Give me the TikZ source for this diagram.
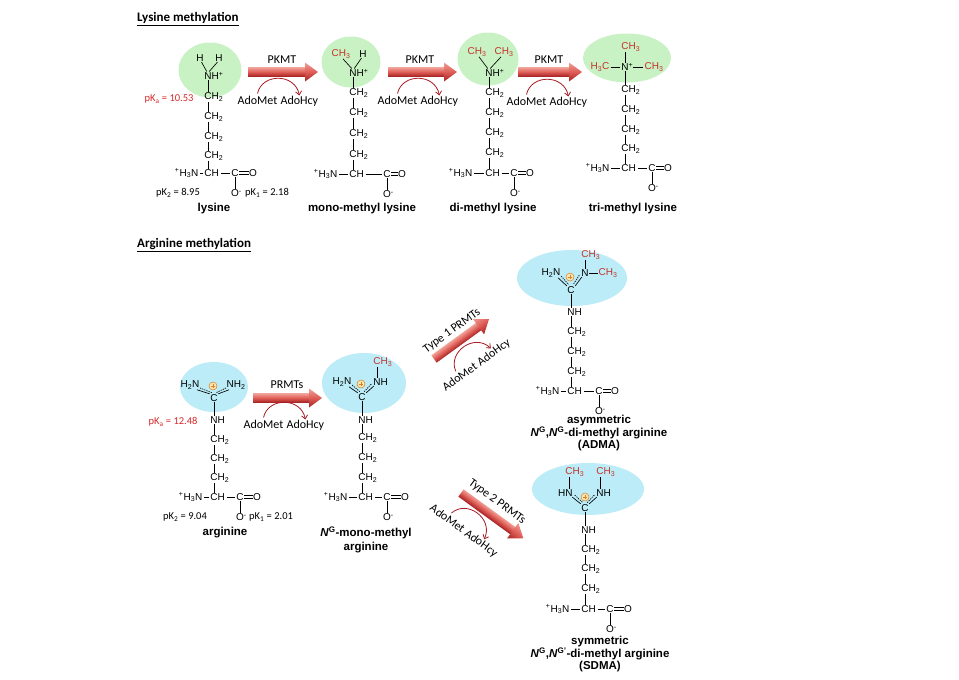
\documentclass[tikz,border=0pt]{standalone}
\usepackage{fontspec}
\setmainfont{Liberation Sans}
\newfontfamily\calfont{Carlito}
\usetikzlibrary{shapes.geometric,arrows.meta,calc}
\definecolor{mred}{RGB}{196,52,42}
\definecolor{pkred}{RGB}{214,40,40}
\definecolor{lgreen}{RGB}{200,241,196}
\definecolor{lblue}{RGB}{188,236,247}
\definecolor{arrtop}{RGB}{240,160,150}
\definecolor{arrmid}{RGB}{222,92,86}
\definecolor{arrbot}{RGB}{165,34,34}
\definecolor{curvered}{RGB}{168,28,36}
\definecolor{plusorange}{RGB}{214,130,40}
\definecolor{plusfill}{RGB}{250,228,175}
\tikzset{
 atom/.style={font=\fontsize{10}{10}\selectfont, inner sep=0.4pt},
 ratom/.style={atom, text=mred},
 bond/.style={line width=0.65pt},
 pk/.style={font=\calfont\fontsize{10.5}{11}\selectfont, inner sep=0pt},
 pkr/.style={pk, text=pkred},
 enz/.style={font=\calfont\fontsize{12}{13}\selectfont, inner sep=0pt},
 molname/.style={font=\bfseries\fontsize{11.5}{11.5}\selectfont, align=center, inner sep=0pt},
 heading/.style={font=\calfont\bfseries\fontsize{13}{14}\selectfont, inner sep=0pt, anchor=west},
 gell/.style={ellipse, fill=lgreen, inner sep=0pt},
 bell/.style={ellipse, fill=lblue, inner sep=0pt},
 plusc/.style={circle, draw=plusorange, fill=plusfill, line width=0.5pt, minimum size=8pt, inner sep=0pt,
   path picture={\draw[plusorange, line width=0.6pt]
     ([xshift=-2.2pt]path picture bounding box.center) -- ([xshift=2.2pt]path picture bounding box.center)
     ([yshift=-2.2pt]path picture bounding box.center) -- ([yshift=2.2pt]path picture bounding box.center);}},
 curv/.style={draw=curvered, line width=0.8pt, -{Straight Barb[length=3.5pt, width=6pt]}},
 dbond/.style={bond, dash pattern=on 1.3pt off 1pt},
}
% fat shaded reaction arrow: tail x, tail y, angle, length
\newcommand\fatarrow[4]{%
 \begin{scope}[transform canvas={shift={(#1,#2)},rotate=#3}]
  \shade[top color=arrtop, bottom color=arrbot, middle color=arrmid] (0,-4.5) rectangle (#4-12.5,4.5);
  \shade[top color=arrtop, bottom color=arrbot, middle color=arrmid] (#4-13,-9.5) -- (#4,0) -- (#4-13,9.5) -- cycle;
 \end{scope}}
% AdoMet -> AdoHcy cofactor label with curved arrow: name, x, y, angle
\newcommand\cofactor[4]{%
 \begin{scope}[shift={(#2,#3)}, rotate=#4]
  \node[enz, transform shape, anchor=base east] (#1am) at (-1.4,4) {AdoMet};
  \node[enz, transform shape, anchor=base west] (#1ah) at (1.4,4) {AdoHcy};
  \draw[curv] ([yshift=2pt]#1am.north) .. controls (-17,-27) and (16,-27) .. (#1ah.north);
 \end{scope}}
\newcommand\chtwo[3]{\node[atom] (#1) at (#2,#3) {C\rlap{H\textsubscript{2}}};}
% bottom row: prefix, chain x, y, H3N east x, C x, O x
\newcommand\botrow[6]{%
 \node[atom, anchor=east] (#1h3n) at (#4,#3) {\textsuperscript{+}H\textsubscript{3}N};
 \node[atom] (#1ch) at (#2,#3) {C\rlap{H}};
 \node[atom] (#1cc) at (#5,#3) {C};
 \node[atom] (#1o) at (#6,#3) {O};
 \node[atom] (#1om) at (#5,#3+20.5) {O\rlap{\textsuperscript{-}}};
 \draw[bond] ([xshift=1pt]#1h3n.east) -- ([xshift=-1pt]#1ch.west);
 \draw[bond] ([xshift=8.6pt]#1ch.east) -- ([xshift=-1pt]#1cc.west);
 \draw[bond] ([yshift=1.7pt]#1cc.east) -- ([yshift=1.7pt]#1o.west);
 \draw[bond] ([yshift=-1.7pt]#1cc.east) -- ([yshift=-1.7pt]#1o.west);
 \draw[bond] (#1cc) -- (#1om);}
\begin{document}
\begin{tikzpicture}[x=1pt,y=-1pt]
\useasboundingbox (0,0) rectangle (959,680);
\fill[white] (0,0) rectangle (959,680);

% ---------- headings ----------
\node[heading] (lystitle) at (137,19) {\underline{Lysine methylation}};
\node[heading] (argtitle) at (137,245) {\underline{Arginine methylation}};

% ---------- highlight ellipses ----------
\node[gell, minimum width=63pt, minimum height=55pt] (ly1e) at (210,70) {};
\node[gell, minimum width=59pt, minimum height=51pt] (ly2e) at (351,62) {};
\node[gell, minimum width=61pt, minimum height=53pt] (ly3e) at (488,59) {};
\node[gell, minimum width=88pt, minimum height=49pt] (ly4e) at (627,58) {};
\node[bell, minimum width=68pt, minimum height=50pt] (a1e) at (214,387) {};
\node[bell, minimum width=84pt, minimum height=60pt] (a2e) at (364,383) {};
\node[bell, minimum width=110pt, minimum height=56pt] (ade) at (572,278) {};
\node[bell, minimum width=112pt, minimum height=52pt] (sde) at (588,489) {};

% ---------- lysine ----------
\node[atom] (ly1ha) at (200,58) {H};
\node[atom] (ly1hb) at (219,58) {H};
\node[atom] (ly1n) at (208,76) {N\rlap{H\textsuperscript{+}}};
\chtwo{ly1c1}{208}{97}
\chtwo{ly1c2}{208}{117}
\chtwo{ly1c3}{208}{137}
\chtwo{ly1c4}{208}{156}
\botrow{ly1}{208}{173}{199}{235}{253}
\draw[bond] ([xshift=1.5pt]ly1ha.south) -- ([xshift=-1.2pt]ly1n.north);
\draw[bond] ([xshift=-1.5pt]ly1hb.south) -- ([xshift=1.2pt]ly1n.north);
\draw[bond] (ly1n) -- (ly1c1) (ly1c1) -- (ly1c2) (ly1c2) -- (ly1c3) (ly1c3) -- (ly1c4) (ly1c4) -- (ly1ch);
\node[pkr] (ly1pka) at (169,99) {pK\textsubscript{a} = 10.53};
\node[pk] (ly1pk2) at (178,193) {pK\textsubscript{2} = 8.95};
\node[pk] (ly1pk1) at (267,193) {pK\textsubscript{1} = 2.18};
\node[molname] (ly1name) at (214,209) {lysine};

% ---------- mono-methyl lysine ----------
\node[ratom] (ly2me) at (341,54) {CH\textsubscript{3}};
\node[atom] (ly2h) at (363,54) {H};
\node[atom] (ly2n) at (353,73) {N\rlap{H\textsuperscript{+}}};
\chtwo{ly2c1}{353}{93}
\chtwo{ly2c2}{353}{113}
\chtwo{ly2c3}{353}{134}
\chtwo{ly2c4}{353}{155}
\botrow{ly2}{353}{174}{338}{387}{402}
\draw[bond] ([xshift=2pt]ly2me.south) -- ([xshift=-1.2pt]ly2n.north);
\draw[bond] ([xshift=-1.5pt]ly2h.south) -- ([xshift=1.2pt]ly2n.north);
\draw[bond] (ly2n) -- (ly2c1) (ly2c1) -- (ly2c2) (ly2c2) -- (ly2c3) (ly2c3) -- (ly2c4) (ly2c4) -- (ly2ch);
\node[molname] (ly2name) at (362,209) {mono-methyl lysine};

% ---------- di-methyl lysine ----------
\node[ratom] (ly3mea) at (477,52) {CH\textsubscript{3}};
\node[ratom] (ly3meb) at (504,52) {CH\textsubscript{3}};
\node[atom] (ly3n) at (489,73) {N\rlap{H\textsuperscript{+}}};
\chtwo{ly3c1}{489}{93}
\chtwo{ly3c2}{489}{113}
\chtwo{ly3c3}{489}{133}
\chtwo{ly3c4}{489}{153}
\botrow{ly3}{489}{173}{473}{514}{530}
\draw[bond] ([xshift=2pt]ly3mea.south) -- ([xshift=-1.2pt]ly3n.north);
\draw[bond] ([xshift=-3pt]ly3meb.south) -- ([xshift=1.2pt]ly3n.north);
\draw[bond] (ly3n) -- (ly3c1) (ly3c1) -- (ly3c2) (ly3c2) -- (ly3c3) (ly3c3) -- (ly3c4) (ly3c4) -- (ly3ch);
\node[molname] (ly3name) at (493,209) {di-methyl lysine};

% ---------- tri-methyl lysine ----------
\node[ratom] (ly4met) at (625,47) {C\rlap{H\textsubscript{3}}};
\node[ratom] (ly4mel) at (600,67) {H\textsubscript{3}C};
\node[atom] (ly4n) at (625,67) {N\rlap{\textsuperscript{+}}};
\node[ratom] (ly4mer) at (654,67) {CH\textsubscript{3}};
\chtwo{ly4c1}{625}{90}
\chtwo{ly4c2}{625}{110}
\chtwo{ly4c3}{625}{130}
\chtwo{ly4c4}{625}{149}
\botrow{ly4}{625}{168}{610}{652}{668}
\draw[bond] (ly4met) -- (ly4n);
\draw[bond] ([xshift=0.5pt]ly4mel.east) -- ([xshift=-0.5pt]ly4n.west);
\draw[bond] ([xshift=4pt]ly4n.east) -- ([xshift=-0.5pt]ly4mer.west);
\draw[bond] (ly4n) -- (ly4c1) (ly4c1) -- (ly4c2) (ly4c2) -- (ly4c3) (ly4c3) -- (ly4c4) (ly4c4) -- (ly4ch);
\node[molname] (ly4name) at (633,209) {tri-methyl lysine};

% ---------- lysine reaction arrows ----------
\coordinate (k1s) at (248,72); \coordinate (k1t) at (318,72);
\fatarrow{248}{72}{0}{70}
\node[enz] (k1lab) at (282,60) {PKMT};
\cofactor{k1}{279}{100}{0}
\coordinate (k2s) at (388,72); \coordinate (k2t) at (457,72);
\fatarrow{388}{72}{0}{69}
\node[enz] (k2lab) at (420,60) {PKMT};
\cofactor{k2}{419}{100}{0}
\coordinate (k3s) at (518,72); \coordinate (k3t) at (582,72);
\fatarrow{518}{72}{0}{64}
\node[enz] (k3lab) at (549,60) {PKMT};
\cofactor{k3}{548}{101}{0}

% ---------- arginine ----------
\node[atom] (a1l) at (190,385) {H\textsubscript{2}N};
\node[atom] (a1r) at (236,385) {NH\textsubscript{2}};
\node[plusc] (a1p) at (213,386) {};
\node[atom] (a1c) at (214,398) {C};
\node[atom] (a1nh) at (214,420) {N\rlap{H}};
\chtwo{a1c1}{214}{440}
\chtwo{a1c2}{214}{459}
\chtwo{a1c3}{214}{478}
\botrow{a1}{214}{497}{203}{240}{257}
\draw[bond] ([xshift=-3pt]a1l.south east) -- (a1c.north west);
\draw[dbond] ([xshift=0pt,yshift=1.8pt]a1l.south east) -- ([xshift=2pt,yshift=1.2pt]a1c.north west);
\draw[bond] ([xshift=3pt]a1r.south west) -- (a1c.north east);
\draw[dbond] ([xshift=0pt,yshift=1.8pt]a1r.south west) -- ([xshift=-2pt,yshift=1.2pt]a1c.north east);
\draw[bond] (a1c) -- (a1nh) (a1nh) -- (a1c1) (a1c1) -- (a1c2) (a1c2) -- (a1c3) (a1c3) -- (a1ch);
\node[pkr] (a1pka) at (173,422) {pK\textsubscript{a} = 12.48};
\node[pk] (a1pk2) at (185,517) {pK\textsubscript{2} = 9.04};
\node[pk] (a1pk1) at (271,517) {pK\textsubscript{1} = 2.01};
\node[molname] (a1name) at (225,533) {arginine};

% ---------- NG-mono-methyl arginine ----------
\node[ratom] (a2me) at (377,362) {C\rlap{H\textsubscript{3}}};
\node[atom] (a2l) at (342,382) {H\textsubscript{2}N};
\node[atom] (a2r) at (377,382) {N\rlap{H}};
\node[plusc] (a2p) at (361,384) {};
\node[atom] (a2c) at (362,397) {C};
\node[atom] (a2nh) at (362,420) {N\rlap{H}};
\chtwo{a2c1}{362}{438}
\chtwo{a2c2}{362}{458}
\chtwo{a2c3}{362}{478}
\botrow{a2}{362}{497}{348}{387}{405}
\draw[bond] (a2me) -- (a2r);
\draw[bond] ([xshift=-3pt]a2l.south east) -- (a2c.north west);
\draw[dbond] ([yshift=1.8pt]a2l.south east) -- ([xshift=2pt,yshift=1.2pt]a2c.north west);
\draw[bond] ([xshift=1pt]a2r.south west) -- (a2c.north east);
\draw[dbond] ([xshift=-1.5pt,yshift=2pt]a2r.south west) -- ([xshift=-2pt,yshift=1.2pt]a2c.north east);
\draw[bond] (a2c) -- (a2nh) (a2nh) -- (a2c1) (a2c1) -- (a2c2) (a2c2) -- (a2c3) (a2c3) -- (a2ch);
\node[molname] (a2name) at (366,540) {\textit{N}\textsuperscript{G}-mono-methyl\\[2.5pt]arginine};

% ---------- arginine reaction arrows ----------
\coordinate (r0s) at (253,398); \coordinate (r0t) at (322,398);
\fatarrow{253}{398}{0}{69}
\node[enz] (r0lab) at (287,385) {PRMTs};
\cofactor{r0}{285}{424}{0}
\coordinate (r1s) at (434,359); \coordinate (r1t) at (489,319);
\fatarrow{434}{359}{36}{68}
\node[enz, rotate=36] (r1lab) at (452,331) {Type 1 PRMTs};
\cofactor{r1}{477}{364}{36}
\coordinate (r2s) at (461,493); \coordinate (r2t) at (523,538);
\fatarrow{461}{493}{-36}{77}
\node[enz, rotate=-36] (r2lab) at (497,502) {Type 2 PRMTs};
\cofactor{r2}{465}{531}{-36}

% ---------- ADMA ----------
\node[ratom] (adme1) at (585,255) {C\rlap{H\textsubscript{3}}};
\node[atom] (adl) at (551,273) {H\textsubscript{2}N};
\node[atom] (adr) at (585,273) {N};
\node[ratom] (adme2) at (608,273) {CH\textsubscript{3}};
\node[plusc] (adp) at (570,277) {};
\node[atom] (adc) at (571,290) {C};
\node[atom] (adnh) at (571,312) {N\rlap{H}};
\chtwo{adc1}{571}{332}
\chtwo{adc2}{571}{352}
\chtwo{adc3}{571}{372}
\botrow{ad}{571}{391}{560}{599}{615}
\draw[bond] (adme1) -- (adr);
\draw[bond] (adr.east) -- (adme2.west);
\draw[bond] ([xshift=-3pt]adl.south east) -- (adc.north west);
\draw[dbond] ([yshift=1.8pt]adl.south east) -- ([xshift=2pt,yshift=1.2pt]adc.north west);
\draw[bond] ([xshift=1pt]adr.south west) -- (adc.north east);
\draw[dbond] ([xshift=-1.5pt,yshift=2pt]adr.south west) -- ([xshift=-2pt,yshift=1.2pt]adc.north east);
\draw[bond] (adc) -- (adnh) (adnh) -- (adc1) (adc1) -- (adc2) (adc2) -- (adc3) (adc3) -- (adch);
\node[molname] (adname) at (599,433) {asymmetric\\\textit{N}\textsuperscript{G},\textit{N}\textsuperscript{G}-di-methyl arginine\\(ADMA)};

% ---------- SDMA ----------
\node[ratom] (sdme1) at (569,472) {C\rlap{H\textsubscript{3}}};
\node[ratom] (sdme2) at (600,472) {C\rlap{H\textsubscript{3}}};
\node[atom] (sdl) at (569,493) {\llap{H}N};
\node[atom] (sdr) at (600,493) {N\rlap{H}};
\node[plusc] (sdp) at (585,497) {};
\node[atom] (sdc) at (585,508) {C};
\node[atom] (sdnh) at (585,530) {N\rlap{H}};
\chtwo{sdc1}{585}{550}
\chtwo{sdc2}{585}{569}
\chtwo{sdc3}{585}{589}
\botrow{sd}{585}{609}{570}{610}{628}
\draw[bond] (sdme1) -- (sdl);
\draw[bond] (sdme2) -- (sdr);
\draw[bond] ([xshift=-1pt]sdl.south east) -- (sdc.north west);
\draw[dbond] ([xshift=1.5pt,yshift=2pt]sdl.south east) -- ([xshift=2pt,yshift=1.2pt]sdc.north west);
\draw[bond] ([xshift=1pt]sdr.south west) -- (sdc.north east);
\draw[dbond] ([xshift=-1.5pt,yshift=2pt]sdr.south west) -- ([xshift=-2pt,yshift=1.2pt]sdc.north east);
\draw[bond] (sdc) -- (sdnh) (sdnh) -- (sdc1) (sdc1) -- (sdc2) (sdc2) -- (sdc3) (sdc3) -- (sdch);
\node[molname] (sdname) at (600,654) {symmetric\\\textit{N}\textsuperscript{G},\textit{N}\textsuperscript{G'}-di-methyl arginine\\(SDMA)};
\end{tikzpicture}
\end{document}
